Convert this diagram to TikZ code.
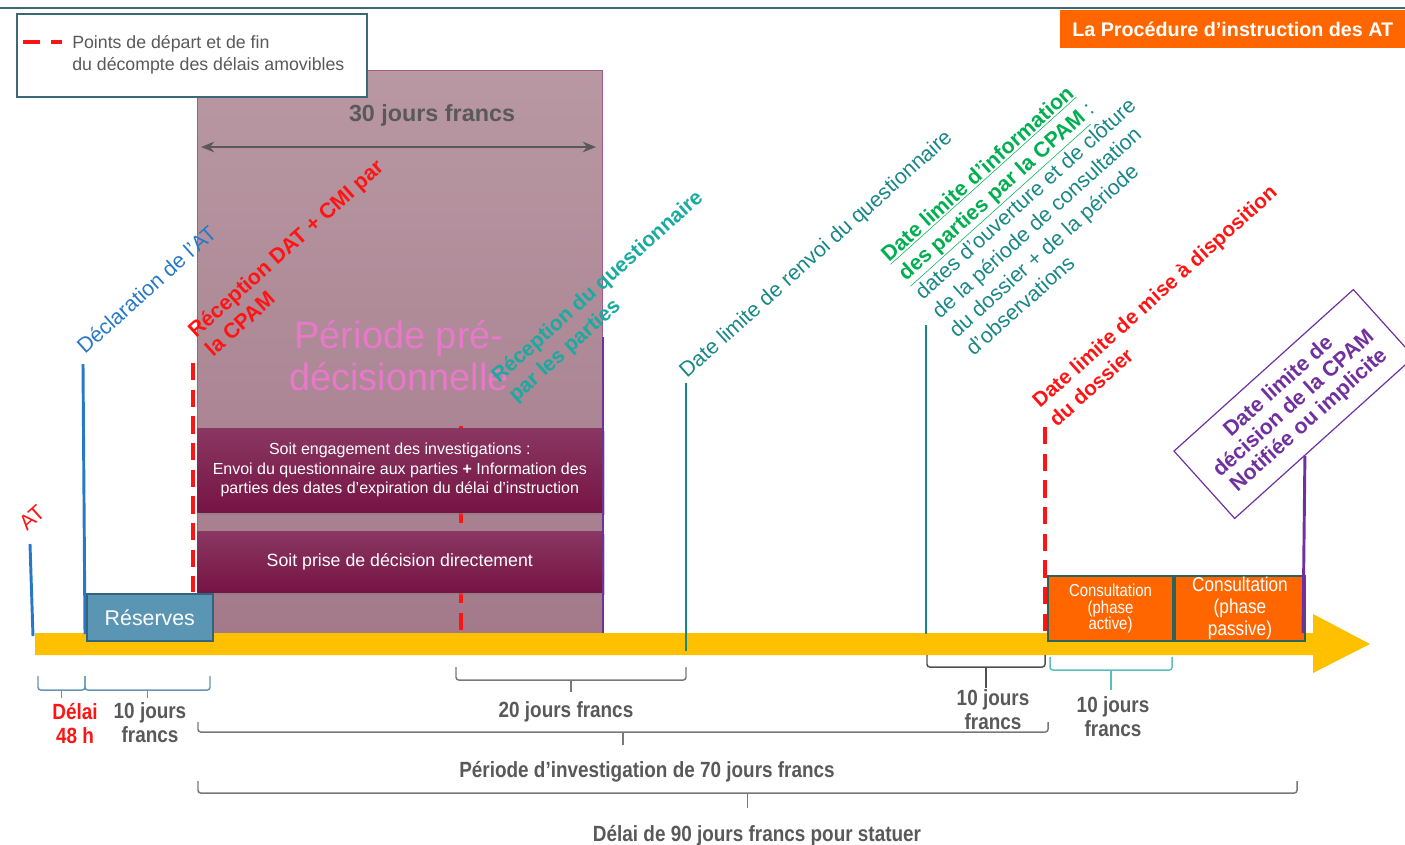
\documentclass[tikz,border=0pt]{standalone}
\usepackage{fontspec}
\setmainfont{Liberation Sans}
\newfontfamily\narrowfont[FakeStretch=0.86]{Liberation Sans}
\usetikzlibrary{positioning,arrows.meta,calc,shadows}
\definecolor{atred}{RGB}{255,20,20}
\definecolor{atblue}{RGB}{40,120,200}
\definecolor{atteal}{RGB}{25,135,135}
\definecolor{atteallight}{RGB}{25,170,160}
\definecolor{atgreen}{RGB}{0,176,80}
\definecolor{atpurple}{RGB}{112,48,160}
\definecolor{atorange}{RGB}{255,102,0}
\definecolor{atyellow}{RGB}{255,192,0}
\definecolor{atgray}{RGB}{89,89,89}
\definecolor{mauvetop}{RGB}{184,152,163}
\definecolor{mauvebot}{RGB}{164,122,138}
\definecolor{mauveedge}{RGB}{170,90,135}
\definecolor{maroontop}{RGB}{138,55,98}
\definecolor{maroonbot}{RGB}{118,20,68}
\definecolor{resblue}{RGB}{90,150,180}
\definecolor{resborder}{RGB}{50,100,130}
\definecolor{frameteal}{RGB}{60,105,120}
\definecolor{consborder}{RGB}{40,100,90}
\definecolor{pdpink}{RGB}{232,120,202}
\definecolor{brblue}{RGB}{100,150,180}
\definecolor{brgray}{RGB}{120,120,120}
\definecolor{brdark}{RGB}{80,80,80}
\definecolor{brteal}{RGB}{90,190,190}
\NewDocumentCommand{\lns}{ m }{\begin{tabular}[t]{@{}l@{}}#1\end{tabular}}
\NewDocumentCommand{\lnc}{ m }{\begin{tabular}[t]{@{}c@{}}#1\end{tabular}}
\NewDocumentCommand{\accolade}{ m m m m m m }   
{
  \draw[brace,#6] (#1,#3) -- (#1,#4) -- (#2,#4) -- (#2,#3);
  \draw[brace,#6] ({(#1+#2)/2},#4) -- ({(#1+#2)/2},#5);
}
\begin{document}
\begin{tikzpicture}[x=0.75pt,y=-0.75pt,
  lbl/.style={rotate=42,anchor=base west,inner sep=0pt,font=\fontsize{16}{19}\selectfont},
  vline/.style={line width=2.2pt},
  reddash/.style={atred,line width=3pt,dash pattern=on 13pt off 7pt},
  brace/.style={line width=1.1pt,rounded corners=2pt},
  dur/.style={font=\narrowfont\bfseries\fontsize{16.5}{18}\selectfont,text=atgray,anchor=base,inner sep=0pt},
  choice/.style={minimum width=303.75pt,inner sep=0pt,anchor=north west,align=center,text=white,top color=maroontop,bottom color=maroonbot,drop shadow={shadow xshift=2pt,shadow yshift=-2pt,opacity=.4}},
  consult/.style={draw=consborder,line width=1.5pt,fill=atorange,text=white,inner sep=0pt,anchor=north west,align=center,minimum height=48.75pt}]
  \useasboundingbox (0,0) rectangle (1405,844);
  \draw[frameteal,line width=1.5pt] (0,8) coordinate (rule-l) -- (1405,8) coordinate (rule-r);
  \node[fill=atorange,text=white,font=\bfseries\fontsize{14.8}{17}\selectfont,minimum width=258.75pt,minimum height=28.5pt,inner sep=0pt,anchor=north west] (title) at (1060,10) {La Procédure d’instruction des AT};
  \node[draw=mauveedge,line width=0.8pt,top color=mauvetop,bottom color=mauvebot,minimum width=303.75pt,minimum height=422.25pt,inner sep=0pt,anchor=north west] (prebox) at (197,70) {};
  \node[draw=frameteal,line width=1.2pt,fill=white,minimum width=262.5pt,minimum height=62.25pt,inner sep=0pt,anchor=north west] (legend) at (16,13) {};
  \coordinate (leg-a) at (23,42);
  \coordinate (leg-b) at (62,42);
  \draw[atred,line width=3pt,dash pattern=on 13pt off 8pt] (leg-a) -- (leg-b);
  \node[anchor=base west,inner sep=0pt,text=atgray,font=\fontsize{13.3}{17}\selectfont] (legtext) at (72,48) {\lns{Points de départ et de fin\\du décompte des délais amovibles}};
  \node[font=\bfseries\fontsize{17.5}{20}\selectfont,text=atgray,anchor=base,inner sep=0pt] (trente) at (432,121) {30 jours francs};
  \coordinate (tr-l) at (201,147);
  \coordinate (tr-r) at (596,147);
  \draw[{Stealth[length=10pt,width=8pt]}-{Stealth[length=10pt,width=8pt]},atgray,line width=1pt] (tr-l) -- (tr-r);
  \draw[reddash] (461,426) -- (461,633);
  \node[choice,minimum height=63pt,font=\fontsize{12}{14.6}\selectfont] (engage) at (197,428) {Soit engagement des investigations :\\Envoi du questionnaire aux parties \textbf{+} Information des\\parties des dates d’expiration du délai d’instruction};
  \node[choice,minimum height=45.75pt,font=\fontsize{13.3}{16}\selectfont] (direct) at (197,531) {Soit prise de décision directement};
  \node[anchor=base,inner sep=0pt,text=pdpink,font=\fontsize{28.5}{31.5}\selectfont] (predec) at (399,348) {\lnc{Période pré-\\décisionnelle}};
  \fill[atyellow] (35,633) -- (1313,633) -- (1313,614) -- (1370,644) -- (1313,673) -- (1313,655) -- (35,655) -- cycle;
  \draw[atblue,vline] (30,544) -- (33,636);
  \draw[atblue,vline] (83,364) -- (85,634);
  \draw[reddash] (193,363) -- (193,592);
  \draw[atpurple,vline] (603,337) -- (603,633);
  \draw[atteal,vline] (686,383) -- (686,651);
  \draw[atteal,vline] (926,325) -- (926,634);
  \draw[reddash] (1045,427) -- (1045,633);
  \node[draw=resborder,line width=1.2pt,fill=resblue,text=white,font=\fontsize{16}{18}\selectfont,minimum width=94.5pt,minimum height=35.25pt,inner sep=0pt,anchor=north west] (reserves) at (86,593) {Réserves};
  \node[consult,minimum width=93.75pt,font=\narrowfont\fontsize{13}{12.5}\selectfont] (active) at (1047,575) {Consultation\\(phase\\active)};
  \node[consult,minimum width=97.5pt,font=\narrowfont\fontsize{15}{16.5}\selectfont] (passive) at (active.north east) {Consultation\\(phase\\passive)};
  \node[lbl,text=atred] (l-at) at (27,532) {AT};
  \node[lbl,text=atblue] (l-decl) at (85,355) {Déclaration de l'AT};
  \node[lbl,text=atred,font=\bfseries\fontsize{16}{19}\selectfont] (l-recep) at (196,339) {\lns{Réception DAT + CMI par\\la CPAM}};
  \node[lbl,text=atteallight,font=\bfseries\fontsize{15.7}{19}\selectfont] (l-quest) at (499,384) {\lns{Réception du questionnaire\\par les parties}};
  \node[lbl,text=atteal] (l-renvoi) at (687,379) {Date limite de renvoi du questionnaire};
  \node[lbl,text=atteal] (l-info) at (889,263) {\lns{\textcolor{atgreen}{\bfseries\underline{Date limite d'information}}\\\textcolor{atgreen}{\bfseries\underline{des parties par la CPAM}} :\\dates d'ouverture et de clôture\\de la période de consultation\\du dossier + de la période\\d'observations}};
  \node[lbl,text=atred,font=\bfseries\fontsize{15.5}{19}\selectfont] (l-dispo) at (1040,409) {\lns{Date limite de mise à disposition\\du dossier}};
  \node[draw=atpurple,line width=0.9pt,rotate=42,minimum width=181pt,minimum height=68pt,inner sep=2pt,align=center,text=atpurple,fill=white,font=\bfseries\fontsize{16}{17}\selectfont] (l-decision) at (1294,404) {Date limite de\\décision de la CPAM\\Notifiée ou implicite};
  \coordinate (dec-top) at ($(l-decision.south west)!0.39!(l-decision.south east)$);
  \draw[atpurple,vline] (dec-top) -- (1303,633);
  \accolade{38}{85}{676}{690}{698}{brblue}
  \accolade{85}{210}{676}{690}{698}{brblue}
  \accolade{456}{686}{667}{680}{692}{brgray}
  \accolade{927}{1045}{655}{667}{688}{brdark}
  \accolade{1050}{1172}{657}{670}{690}{brteal}
  \accolade{198}{1048}{722}{732}{745}{brgray}
  \accolade{198}{1297}{781}{793}{808}{brgray}
  \node[dur,text=atred] (d-48) at (75,719) {\lnc{Délai\\48 h}};
  \node[dur] (d-10a) at (150,718) {\lnc{10 jours\\francs}};
  \node[dur] (d-20) at (566,717) {20 jours francs};
  \node[dur] (d-10b) at (993,705) {\lnc{10 jours\\francs}};
  \node[dur] (d-10c) at (1113,712) {\lnc{10 jours\\francs}};
  \node[dur] (d-70) at (647,777) {Période d’investigation de 70 jours francs};
  \node[dur] (d-90) at (757,841) {Délai de 90 jours francs pour statuer};
\end{tikzpicture}
\end{document}
